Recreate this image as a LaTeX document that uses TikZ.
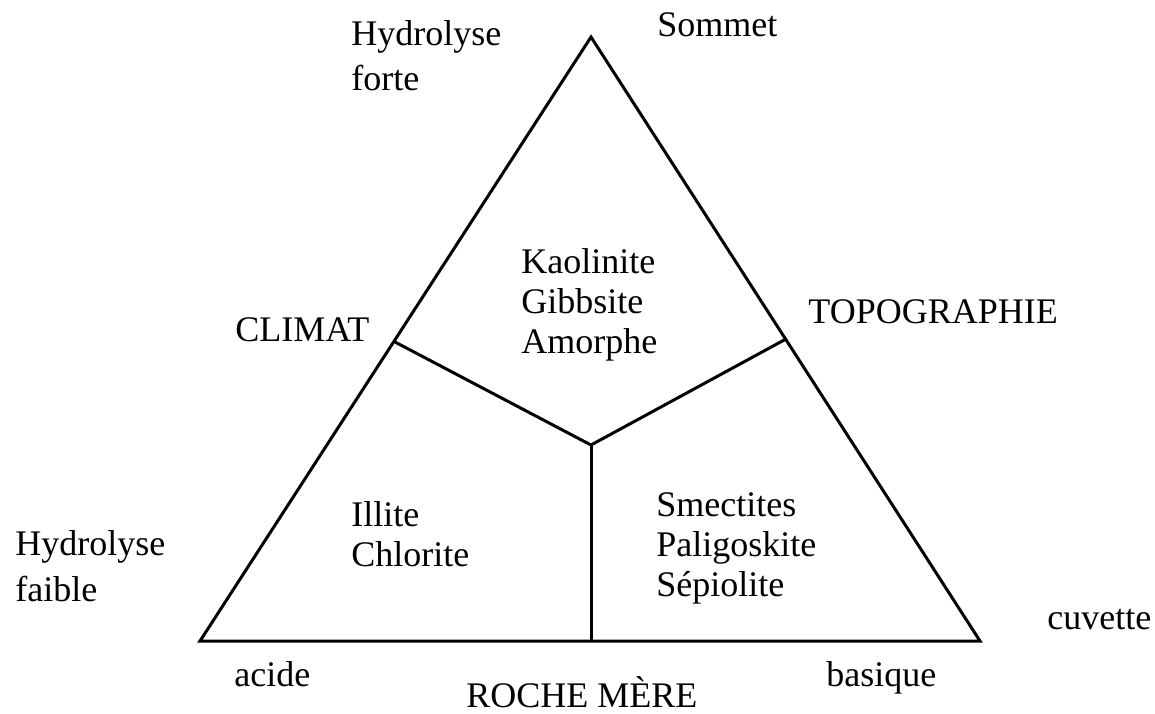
\documentclass[tikz,border=0pt]{standalone}
\usepackage{fontspec}
\setmainfont{Liberation Serif}
\begin{document}
\begin{tikzpicture}[x=0.5pt,y=-0.5pt,
  edge/.style={line width=1.5pt,line join=miter},
  lbl/.style={font=\fontsize{18}{22.5}\selectfont,inner sep=0pt,anchor=base west}]
\useasboundingbox (0,0) rectangle (1155,713);
\coordinate (A) at (591,37);
\coordinate (L) at (200,641);
\coordinate (R) at (980,641);
\coordinate (C) at (591,445);
\coordinate (ML) at (395,342);
\coordinate (MR) at (786,339);
\coordinate (MB) at (591,641);
\draw[edge] (A) -- (L) -- (R) -- cycle;
\draw[edge] (ML) -- (C) -- (MR);
\draw[edge] (C) -- (MB);
\node[lbl] (hf1) at (351,45) {Hydrolyse};
\node[lbl] (hf2) at (351,90) {forte};
\node[lbl] (som) at (657,36) {Sommet};
\node[lbl] (kao) at (521,273) {Kaolinite};
\node[lbl] (gib) at (521,313) {Gibbsite};
\node[lbl] (amo) at (521,353) {Amorphe};
\node[lbl] (cli) at (235,341) {CLIMAT};
\node[lbl] (topo) at (808,323) {TOPOGRAPHIE};
\node[lbl] (ill) at (351,526) {Illite};
\node[lbl] (chl) at (351,566) {Chlorite};
\node[lbl] (sme) at (656,516) {Smectites};
\node[lbl] (pal) at (656,556) {Paligoskite};
\node[lbl] (sep) at (656,596) {Sépiolite};
\node[lbl] (hfa1) at (15,555) {Hydrolyse};
\node[lbl] (hfa2) at (15,601) {faible};
\node[lbl] (cuv) at (1047,629) {cuvette};
\node[lbl] (aci) at (234,686) {acide};
\node[lbl] (bas) at (826,686) {basique};
\node[lbl] (rm) at (466,707) {ROCHE MÈRE};
\end{tikzpicture}
\end{document}
